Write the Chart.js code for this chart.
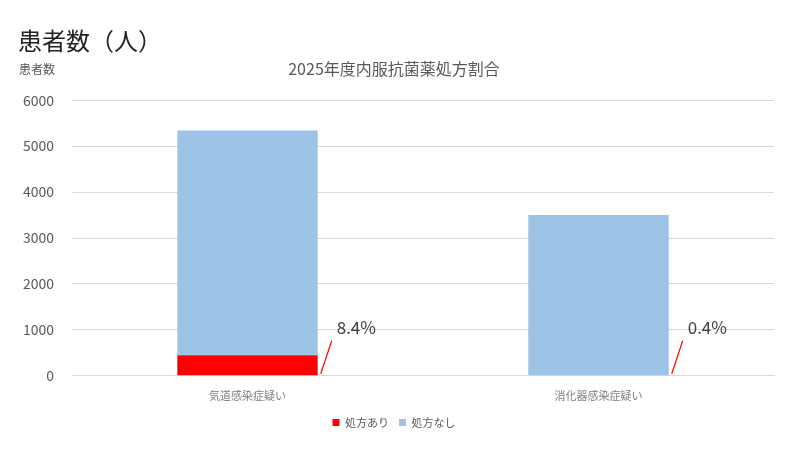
<!DOCTYPE html>
<html>
<head>
<meta charset="utf-8">
<script src="https://cdn.jsdelivr.net/npm/chart.js@4/dist/chart.umd.min.js"></script>
<style>
  html, body { margin: 0; padding: 0; background: #fff; }
  #wrap { position: relative; width: 800px; height: 449px; }
  #heading { position: absolute; left: 18px; top: 22px; font: 24px "Noto Sans CJK JP", sans-serif; color: #222; }
  #axisCap { position: absolute; left: 19px; top: 60px; font: 12px "Noto Sans CJK JP", sans-serif; color: #595959; }
</style>
</head>
<body>
<div id="wrap">
  <canvas id="chart" width="800" height="449"></canvas>
  <div id="heading">患者数（人）</div>
  <div id="axisCap">患者数</div>
</div>
<script>
const categories = ["気道感染症疑い", "消化器感染症疑い"];
const withRx = [449, 14];
const withoutRx = [4891, 3486];
const yTicks = [0, 1000, 2000, 3000, 4000, 5000, 6000];

const font = "'Noto Sans CJK JP', sans-serif";

const pctLabels = {
  id: "pctLabels",
  afterDatasetsDraw(chart) {
    const ctx = chart.ctx;
    const meta = chart.getDatasetMeta(0);
    meta.data.forEach((bar, i) => {
      const total = withRx[i] + withoutRx[i];
      const pct = ((withRx[i] / total) * 100).toFixed(1) + "%";
      const right = bar.x + bar.width / 2;
      const base = chart.scales.y.getPixelForValue(0);
      ctx.save();
      ctx.strokeStyle = "#ff0000";
      ctx.lineWidth = 1.2;
      ctx.beginPath();
      ctx.moveTo(right + 3, base - 2);
      ctx.lineTo(right + 14, base - 35);
      ctx.stroke();
      ctx.fillStyle = "#404040";
      ctx.font = "17px " + font;
      ctx.textBaseline = "middle";
      ctx.fillText(pct, right + 19, base - 48);
      ctx.restore();
    });
  },
};

new Chart(document.getElementById("chart").getContext("2d"), {
  type: "bar",
  data: {
    labels: categories,
    datasets: [
      {
        label: "処方あり",
        data: withRx,
        backgroundColor: "#ff0000",
        categoryPercentage: 0.4,
        barPercentage: 1.0,
      },
      {
        label: "処方なし",
        data: withoutRx,
        backgroundColor: "#9dc3e6",
        categoryPercentage: 0.4,
        barPercentage: 1.0,
      },
    ],
  },
  options: {
    responsive: false,
    animation: false,
    layout: { padding: { top: 59, left: 14, right: 26, bottom: 11 } },
    plugins: {
      title: {
        display: true,
        text: "2025年度内服抗菌薬処方割合",
        color: "#595959",
        font: { family: font, size: 16, weight: "normal" },
        padding: { top: 0, bottom: 22 },
      },
      legend: {
        position: "bottom",
        labels: {
          color: "#595959",
          font: { family: font, size: 11 },
          boxWidth: 7,
          boxHeight: 7,
          padding: 10,
        },
      },
      tooltip: { enabled: false },
    },
    scales: {
      x: {
        stacked: true,
        grid: { display: false },
        border: { color: "#d9d9d9" },
        ticks: { color: "#7f7f7f", font: { family: font, size: 11 }, padding: 5 },
      },
      y: {
        stacked: true,
        min: 0,
        max: 6000,
        afterBuildTicks: (axis) => {
          axis.ticks = yTicks.map((v) => ({ value: v }));
        },
        afterFit: (axis) => {
          axis.width = 58;
        },
        grid: { color: "#d9d9d9", drawTicks: false },
        border: { display: false },
        ticks: {
          color: "#595959",
          font: { family: font, size: 14 },
          padding: 18,
          callback: (v) => String(v),
        },
      },
    },
  },
  plugins: [pctLabels],
});
</script>
</body>
</html>
